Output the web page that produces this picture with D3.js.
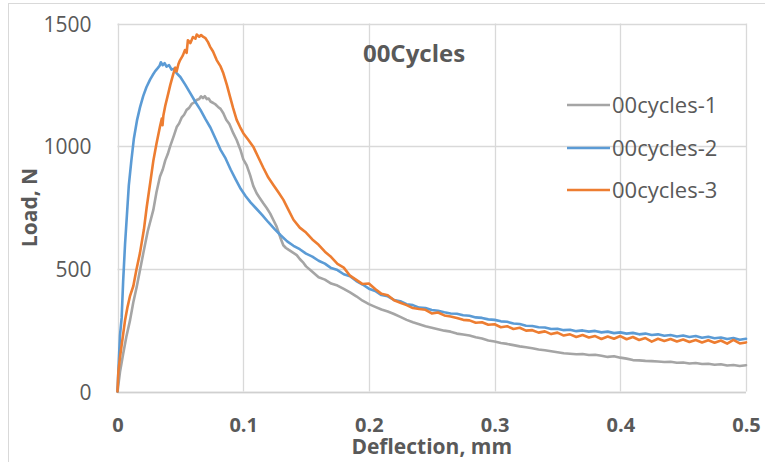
<!DOCTYPE html>
<html>
<head>
<meta charset="utf-8">
<script src="https://cdn.jsdelivr.net/npm/d3@7"></script>
<style>
  html, body { margin: 0; padding: 0; background: #fff; }
  svg { display: block; }
  text { font-family: "Open Sans", "Liberation Sans", sans-serif; fill: #595959; }
</style>
</head>
<body>
<svg id="chart" width="765" height="462"></svg>
<script>
// Load–deflection records, [deflection (mm), load (N)]
const seriesNames = ["00cycles-1", "00cycles-2", "00cycles-3"];
const seriesColors = ["#A5A5A5", "#5B9BD5", "#ED7D31"];
const chartTitle = "00Cycles";
const xTicks = [0, 0.1, 0.2, 0.3, 0.4, 0.5];
const yTicks = [0, 500, 1000, 1500];

const cycles1 = [
  [0,0],[0.002,80],[0.0046,156],[0.007,222],[0.010,291],[0.0125,362],[0.0153,427],[0.018,497],
  [0.0205,563],[0.024,652],[0.0285,740],[0.031,812],[0.0338,876],[0.036,905],[0.038,942],[0.040,968],
  [0.0418,998],[0.045,1045],[0.0471,1078],[0.049,1092],[0.051,1116],[0.053,1128],[0.055,1148],[0.057,1156],
  [0.059,1172],[0.061,1178],[0.063,1188],[0.065,1192],[0.0665,1203],[0.068,1196],[0.0695,1204],[0.071,1192],
  [0.0725,1194],[0.074,1182],[0.0762,1176],[0.078,1170],[0.080,1160],[0.082,1152],[0.0842,1134],[0.0865,1108],
  [0.089,1090],[0.0921,1053],[0.0948,1025],[0.098,982],[0.1001,946],[0.1028,922],[0.1055,882],[0.108,838],
  [0.1107,808],[0.113,790],[0.116,767],[0.1187,748],[0.1215,725],[0.124,699],[0.1266,672],[0.1295,628],
  [0.1319,596],[0.134,585],[0.136,578],[0.139,568],[0.1426,556],[0.145,540],[0.148,524],
  [0.150,510],[0.155,488],[0.160,466],[0.165,456],[0.170,440],[0.175,432],[0.180,418],[0.185,404],
  [0.190,388],[0.195,370],[0.200,356],[0.205,345],[0.210,334],[0.215,326],[0.220,316],[0.225,304],
  [0.230,292],[0.235,282],[0.240,274],[0.245,266],[0.250,260],[0.255,254],[0.260,248],[0.265,244],
  [0.270,236],[0.275,232],[0.280,228],[0.285,221],[0.290,216],[0.295,208],[0.300,204],[0.305,198],
  [0.310,194],[0.315,189],[0.320,184],[0.325,180],[0.330,176],[0.335,171],[0.340,168],[0.345,164],
  [0.350,160],[0.355,156],[0.360,154],[0.365,152],[0.370,153],[0.375,149],[0.380,150],[0.385,146],
  [0.390,141],[0.395,144],[0.400,138],[0.405,134],[0.410,128],[0.415,127],[0.420,125],[0.425,124],
  [0.430,122],[0.435,120],[0.440,121],[0.445,117],[0.450,118],[0.455,114],[0.460,116],[0.465,112],
  [0.470,113],[0.475,109],[0.480,111],[0.485,106],[0.490,108],[0.495,104],[0.500,107]
];

const cycles2 = [
  [0,0],[0.001,120],[0.002,230],[0.0033,300],[0.0045,450],[0.006,600],[0.0075,720],[0.009,840],
  [0.011,940],[0.013,1030],[0.0155,1105],[0.018,1160],[0.0205,1205],[0.023,1240],[0.026,1272],[0.028,1290],
  [0.030,1306],[0.032,1318],[0.0335,1328],[0.0345,1342],[0.036,1330],[0.0375,1338],[0.039,1324],[0.041,1330],
  [0.043,1312],[0.045,1316],[0.047,1298],[0.050,1282],[0.054,1250],[0.058,1215],[0.062,1180],[0.066,1148],
  [0.070,1110],[0.074,1075],[0.078,1030],[0.082,985],[0.086,950],[0.090,905],[0.094,865],[0.098,826],
  [0.102,796],[0.106,770],[0.110,748],[0.115,720],[0.120,690],[0.125,662],[0.130,636],[0.135,612],
  [0.140,594],[0.145,580],
  [0.150,562],[0.155,550],[0.160,533],[0.165,521],[0.170,503],[0.175,495],[0.180,478],[0.185,470],
  [0.190,450],[0.195,436],[0.200,419],[0.205,410],[0.210,393],[0.215,388],[0.220,373],[0.225,368],
  [0.230,356],[0.235,352],[0.240,342],[0.245,340],[0.250,332],[0.255,329],[0.260,323],[0.265,318],
  [0.270,317],[0.275,311],[0.280,309],[0.285,302],[0.290,300],[0.295,294],[0.300,292],[0.305,286],
  [0.310,284],[0.315,277],[0.320,275],[0.325,268],[0.330,267],[0.335,262],[0.340,261],[0.345,255],
  [0.350,256],[0.355,250],[0.360,252],[0.365,246],[0.370,249],[0.375,244],[0.380,247],[0.385,241],
  [0.390,244],[0.395,238],[0.400,241],[0.405,236],[0.410,239],[0.415,233],[0.420,236],[0.425,230],
  [0.430,233],[0.435,227],[0.440,230],[0.445,224],[0.450,228],[0.455,222],[0.460,226],[0.465,219],
  [0.470,223],[0.475,217],[0.480,220],[0.485,214],[0.490,218],[0.495,211],[0.500,215]
];

const cycles3 = [
  [0,0],[0.0007,80],[0.002,140],[0.004,215],[0.006,290],[0.008,345],[0.010,390],[0.0126,430],
  [0.015,495],[0.0179,565],[0.021,660],[0.0232,750],[0.026,850],[0.0285,940],[0.031,1010],[0.0338,1080],
  [0.0352,1112],[0.0358,1085],[0.0365,1125],[0.038,1165],[0.0404,1215],[0.042,1250],[0.0444,1295],[0.046,1320],
  [0.047,1305],[0.0485,1335],[0.0497,1350],[0.052,1370],[0.0537,1392],[0.055,1380],[0.056,1432],[0.058,1420],
  [0.060,1445],[0.062,1438],[0.063,1455],[0.065,1446],[0.0665,1453],[0.0683,1445],[0.070,1440],[0.072,1424],
  [0.0736,1406],[0.076,1386],[0.0789,1351],[0.082,1325],[0.0842,1297],[0.087,1250],[0.0895,1202],[0.092,1155],
  [0.0948,1107],[0.0975,1078],[0.1001,1053],[0.104,1026],[0.108,998],[0.112,955],[0.116,912],[0.120,872],
  [0.124,842],[0.128,812],[0.132,781],[0.136,740],[0.140,700],[0.145,668],
  [0.150,648],[0.155,620],[0.160,598],[0.165,570],[0.170,548],[0.175,520],[0.180,505],[0.185,472],
  [0.190,455],[0.195,438],[0.200,440],[0.205,418],[0.210,398],[0.215,392],[0.220,372],[0.225,362],
  [0.230,352],[0.235,340],[0.240,336],[0.245,333],[0.250,318],[0.255,322],[0.260,310],[0.265,306],
  [0.270,300],[0.275,292],[0.280,290],[0.285,280],[0.290,282],[0.295,272],[0.300,274],[0.305,262],
  [0.310,266],[0.315,255],[0.320,260],[0.325,248],[0.330,250],[0.335,240],[0.340,245],[0.345,234],
  [0.350,240],[0.355,228],[0.360,233],[0.365,222],[0.370,230],[0.375,220],[0.380,226],[0.385,214],
  [0.390,224],[0.395,215],[0.400,226],[0.405,213],[0.410,222],[0.415,210],[0.420,218],[0.425,203],
  [0.430,215],[0.435,206],[0.440,214],[0.445,204],[0.450,212],[0.455,202],[0.460,210],[0.465,200],
  [0.470,209],[0.475,199],[0.480,208],[0.485,195],[0.490,210],[0.495,196],[0.500,200]
];

const seriesData = [cycles1, cycles2, cycles3];

const svg = d3.select("#chart");
const plot = { left: 117.5, right: 746, top: 23.5, bottom: 391.5 };

const x = d3.scaleLinear().domain([0, 0.5]).range([plot.left, plot.right]);
const y = d3.scaleLinear().domain([0, 1500]).range([plot.bottom, plot.top]);

// chart frame (only the left and top edges fall inside the window)
svg.append("rect")
  .attr("x", 8.5).attr("y", 3.5)
  .attr("width", 800).attr("height", 500)
  .attr("fill", "#fff").attr("stroke", "#D9D9D9").attr("stroke-width", 1);

// gridlines
svg.append("g")
  .selectAll("line.v").data(xTicks).join("line")
  .attr("x1", d => Math.round(x(d)) + 0.5).attr("x2", d => Math.round(x(d)) + 0.5)
  .attr("y1", plot.top).attr("y2", plot.bottom)
  .attr("stroke", "#D9D9D9").attr("stroke-width", 1.3);
svg.append("g")
  .selectAll("line.h").data(yTicks).join("line")
  .attr("x1", plot.left).attr("x2", plot.right)
  .attr("y1", d => Math.round(y(d)) + 0.5).attr("y2", d => Math.round(y(d)) + 0.5)
  .attr("stroke", "#D9D9D9").attr("stroke-width", 1.3);

// axes built with d3-axis, styled with no domain path or tick marks
const xAxis = d3.axisBottom(x).tickValues(xTicks).tickSize(0).tickPadding(0)
  .tickFormat(d => d === 0 ? "0" : d3.format(".1f")(d));
const gx = svg.append("g").attr("transform", `translate(0,${plot.bottom})`).call(xAxis);
gx.select(".domain").remove();
gx.selectAll("text")
  .attr("y", 40).attr("dy", null)
  .style("font-size", "20px").style("font-weight", "700").attr("fill", "#595959");

const yAxis = d3.axisLeft(y).tickValues(yTicks).tickSize(0).tickPadding(0)
  .tickFormat(d3.format("d"));
const gy = svg.append("g").attr("transform", `translate(${plot.left},0)`).call(yAxis);
gy.select(".domain").remove();
gy.selectAll("text")
  .attr("x", -26).attr("dy", "0.36em")
  .style("font-size", "21px").style("font-weight", "400").attr("fill", "#595959");

// bottom axis line
svg.append("line")
  .attr("x1", plot.left).attr("x2", plot.right)
  .attr("y1", Math.round(y(0)) + 0.5).attr("y2", Math.round(y(0)) + 0.5)
  .attr("stroke", "#D0D0D0").attr("stroke-width", 1.5);

// curves
const line = d3.line().x(d => x(d[0])).y(d => y(d[1]));
svg.append("g")
  .selectAll("path").data(seriesData).join("path")
  .attr("d", line)
  .attr("fill", "none")
  .attr("stroke", (d, i) => seriesColors[i])
  .attr("stroke-width", 2.6)
  .attr("stroke-linejoin", "round")
  .attr("stroke-linecap", "round");

// title
svg.append("text")
  .attr("x", 414).attr("y", 62)
  .attr("text-anchor", "middle")
  .style("font-size", "24px").style("font-weight", "700")
  .text(chartTitle);

// axis titles
svg.append("text")
  .attr("x", (plot.left + plot.right) / 2).attr("y", 454)
  .attr("text-anchor", "middle")
  .style("font-size", "21px").style("font-weight", "700")
  .text("Deflection, mm");

svg.append("text")
  .attr("transform", `translate(37,${(plot.top + plot.bottom) / 2}) rotate(-90)`)
  .attr("text-anchor", "middle")
  .style("font-size", "21px").style("font-weight", "700")
  .text("Load, N");

// legend
const legendRows = [105, 148, 190];
const legend = svg.append("g");
seriesNames.forEach((name, i) => {
  legend.append("line")
    .attr("x1", 567).attr("x2", 610)
    .attr("y1", legendRows[i]).attr("y2", legendRows[i])
    .attr("stroke", seriesColors[i]).attr("stroke-width", 2.6);
  legend.append("text")
    .attr("x", 612).attr("y", legendRows[i]).attr("dy", "0.36em")
    .style("font-size", "22px")
    .text(name);
});
</script>
</body>
</html>
